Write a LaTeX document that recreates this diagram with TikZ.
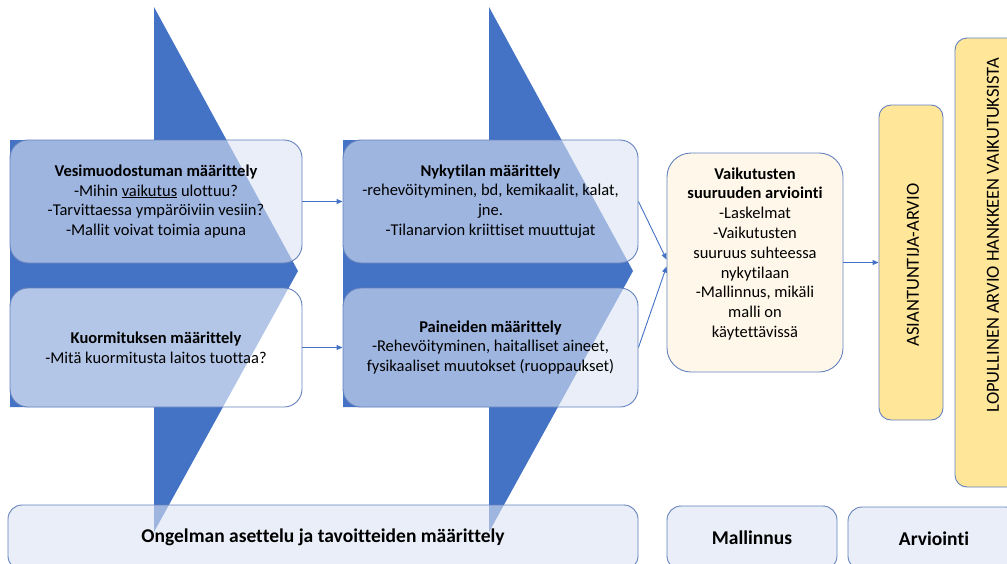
\documentclass[tikz,border=0pt]{standalone}
\usepackage{fontspec}
\setmainfont{Carlito}[Ligatures=NoCommon]
\usetikzlibrary{arrows.meta}

\definecolor{chevblue}{RGB}{68,114,196}
\definecolor{edgeblue}{RGB}{100,130,190}
\definecolor{paleblue}{RGB}{218,227,243}
\definecolor{creamfill}{RGB}{255,248,234}
\definecolor{goldfill}{RGB}{255,230,153}

\begin{document}
\begin{tikzpicture}[x=1pt,y=-1pt,
		box/.style={draw=edgeblue,line width=0.9pt,rounded corners=18pt,align=center,inner sep=0pt,
			font=\fontsize{16.5}{19.8}\selectfont},
		bluebox/.style={box,fill=paleblue,fill opacity=0.6,text opacity=1},
		whitebox/.style={box,fill=white,fill opacity=0.6,text opacity=1},
		goldbox/.style={box,fill=goldfill,rounded corners=12pt},
		stagebox/.style={bluebox,rounded corners=14pt,font=\fontsize{19.5}{22}\selectfont\bfseries},
		sidetext/.style={rotate=90,font=\fontsize{18.5}{22}\selectfont},
		link/.style={draw=chevblue,line width=0.9pt,-{Triangle[length=6pt,width=5pt]}}]
	\useasboundingbox (0,0) rectangle (1007,563);
	\clip (0,0) rectangle (1007,563);
	% the two big arrows behind the boxes
	\fill[chevblue] (10,140) -- (154,140) -- (154,7) -- (298,271) -- (154,532) -- (154,407) -- (10,407) -- cycle;
	\fill[chevblue] (343,140) -- (489,140) -- (489,7) -- (633,271) -- (489,532) -- (489,407) -- (343,407) -- cycle;
	% first column
	\node[bluebox,minimum width=292,minimum height=123] (vesi) at (156,201.5)
		{\textbf{Vesimuodostuman määrittely}\\-Mihin \underline{vaikutus} ulottuu?\\-Tarvittaessa ympäröiviin vesiin?\\-Mallit voivat toimia apuna};
	\node[whitebox,minimum width=292,minimum height=119] (kuorm) at (156,347.5)
		{\textbf{Kuormituksen määrittely}\\-Mitä kuormitusta laitos tuottaa?};
	% second column
	\node[bluebox,minimum width=295,minimum height=123] (nyky) at (490.5,201.5)
		{\textbf{Nykytilan määrittely}\\-rehevöityminen, bd, kemikaalit, kalat,\\jne.\\-Tilanarvion kriittiset muuttujat};
	\node[bluebox,minimum width=295,minimum height=119] (paine) at (490.5,347.5)
		{\textbf{Paineiden määrittely}\\-Rehevöityminen, haitalliset aineet,\\fysikaaliset muutokset (ruoppaukset)};
	% impact estimate
	\node[box,fill=creamfill,rounded corners=24pt,minimum width=176,minimum height=219] (vaik) at (755,262.5)
		{\textbf{Vaikutusten}\\\textbf{suuruuden arviointi}\\-Laskelmat\\-Vaikutusten\\suuruus suhteessa\\nykytilaan\\-Mallinnus, mikäli\\malli on\\käytettävissä\\\mbox{}};
	% the two vertical boxes
	\node[goldbox,minimum width=64,minimum height=315] (asian) at (911,262.5) {};
	\node[sidetext] (asiantxt) at (913,265) {ASIANTUNTIJA-ARVIO};
	\node[goldbox,minimum width=70,minimum height=449] (lopu) at (990,262.5) {};
	\node[sidetext] (loputxt) at (993,235) {LOPULLINEN ARVIO HANKKEEN VAIKUTUKSISTA};
	% stages along the bottom
	\node[stagebox,minimum width=630,minimum height=65] (ongel) at (323,537.5) {Ongelman asettelu ja tavoitteiden määrittely};
	\node[stagebox,minimum width=170,minimum height=64] (malli) at (752,538) {Mallinnus};
	\node[stagebox,minimum width=172,minimum height=63] (arvio) at (934,538.5) {Arviointi};
	% connectors
	\draw[link] (vesi.east) -- (nyky.west);
	\draw[link] (kuorm.east) -- (paine.west);
	\draw[link] (nyky.east) -- ([yshift=3pt]vaik.west);
	\draw[link] (paine.east) -- ([yshift=-4pt]vaik.west);
	\draw[link] (vaik.east) -- (asian.west);
\end{tikzpicture}
\end{document}
